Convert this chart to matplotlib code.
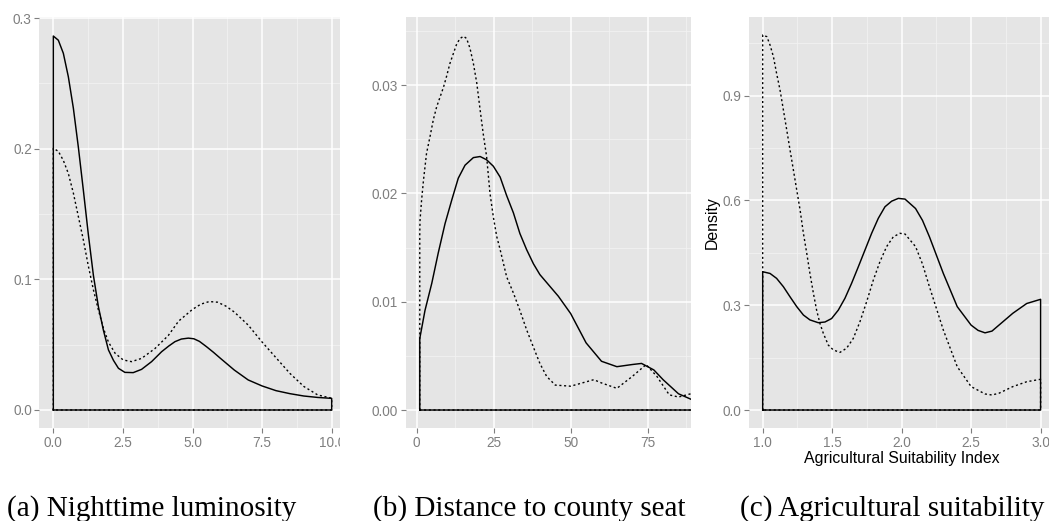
import numpy as np
import matplotlib.pyplot as plt
from matplotlib.patches import Rectangle

# panel (a) nighttime luminosity
lum_x_solid = [0.0, 0.18, 0.36, 0.54, 0.72, 0.9, 1.08, 1.26, 1.44, 1.62, 1.8, 1.98, 2.16, 2.34, 2.57,
               2.87, 3.17, 3.53, 3.89, 4.15, 4.37, 4.6, 4.85, 5.05, 5.25, 5.5, 5.75, 6.0, 6.5, 7.0,
               7.5, 8.0, 8.5, 9.0, 9.5, 10.0]
lum_y_solid = [0.2862, 0.283, 0.273, 0.255, 0.231, 0.201, 0.168, 0.134, 0.103, 0.079, 0.061, 0.046,
               0.038, 0.0319, 0.0288, 0.0286, 0.0311, 0.037, 0.0446, 0.049, 0.0523, 0.0543, 0.055,
               0.0545, 0.0525, 0.0485, 0.0442, 0.0396, 0.0306, 0.023, 0.0184, 0.0148, 0.0125,
               0.0107, 0.0096, 0.0089]
lum_x_dash = [0.0, 0.18, 0.36, 0.54, 0.72, 0.9, 1.08, 1.26, 1.44, 1.62, 1.8, 1.98, 2.22, 2.51, 2.81,
              3.17, 3.65, 4.13, 4.5, 5.0, 5.3, 5.6, 5.9, 6.2, 6.5, 7.0, 7.5, 8.0, 8.5, 9.0, 9.5, 10.0]
lum_y_dash = [0.2003, 0.198, 0.191, 0.181, 0.166, 0.148, 0.130, 0.110, 0.092, 0.0765, 0.0625, 0.052,
              0.0434, 0.0383, 0.037, 0.0395, 0.047, 0.057, 0.068, 0.077, 0.081, 0.083, 0.0825,
              0.0795, 0.075, 0.065, 0.052, 0.040, 0.028, 0.018, 0.0115, 0.009]

# panel (b) distance to county seat
dist_x_solid = [1.0, 2.7, 4.9, 7.0, 9.2, 11.4, 13.5, 15.7, 18.4, 20.6, 22.7, 24.9, 27.1, 29.2, 31.4,
                33.5, 35.7, 37.9, 40.0, 43.3, 46.0, 50.0, 55.0, 60.0, 65.0, 70.0, 73.0, 77.0, 80.0,
                85.0, 89.0, 93.0]
dist_y_solid = [0.0066, 0.0092, 0.0117, 0.0145, 0.0172, 0.0194, 0.0214, 0.0226, 0.0233, 0.0234, 0.0231,
                0.0225, 0.0215, 0.0198, 0.0182, 0.0163, 0.0148, 0.0135, 0.0125, 0.0114, 0.0105,
                0.0089, 0.0062, 0.0045, 0.0040, 0.0042, 0.0043, 0.0037, 0.0028, 0.0015, 0.0010, 0.0006]
dist_x_dash = [1.0, 1.08, 1.6, 2.2, 3.2, 4.3, 5.4, 6.5, 7.6, 8.7, 9.7, 10.8, 11.9, 13.0, 14.1, 15.2,
               16.2, 17.3, 18.4, 19.5, 20.6, 21.6, 22.7, 23.8, 24.9, 26.0, 27.1, 29.2, 31.4, 33.5,
               35.7, 37.9, 40.0, 42.2, 45.0, 50.0, 55.0, 57.5, 60.0, 65.0, 70.0, 74.5, 78.0, 82.0,
               85.0, 89.0, 93.0]
dist_y_dash = [0.0163, 0.0175, 0.0194, 0.0212, 0.0237, 0.0252, 0.0268, 0.028, 0.0289, 0.0298, 0.0308,
               0.032, 0.0329, 0.0338, 0.0343, 0.0345, 0.0343, 0.0334, 0.032, 0.0302, 0.0277, 0.0255,
               0.0234, 0.0200, 0.0178, 0.0160, 0.0148, 0.0123, 0.0108, 0.0092, 0.0074, 0.0058,
               0.0043, 0.0031, 0.0023, 0.0022, 0.0026, 0.0028, 0.0025, 0.0020, 0.0031, 0.0042,
               0.0031, 0.0014, 0.0012, 0.0015, 0.0014]

# panel (c) agricultural suitability
agri_x_solid = [1.0, 1.053, 1.10, 1.149, 1.197, 1.245, 1.293, 1.34, 1.40, 1.448, 1.496, 1.544, 1.592,
                1.64, 1.688, 1.736, 1.784, 1.832, 1.88, 1.928, 1.976, 2.024, 2.1, 2.15, 2.2, 2.3, 2.4,
                2.5, 2.55, 2.6, 2.65, 2.7, 2.8, 2.9, 3.0]
agri_y_solid = [0.396, 0.391, 0.377, 0.353, 0.324, 0.296, 0.272, 0.258, 0.250, 0.252, 0.262, 0.286,
                0.320, 0.363, 0.410, 0.458, 0.506, 0.549, 0.582, 0.598, 0.606, 0.604, 0.577, 0.543,
                0.496, 0.391, 0.296, 0.243, 0.228, 0.221, 0.226, 0.243, 0.277, 0.305, 0.317]
agri_x_dash = [1.0, 1.03, 1.053, 1.077, 1.10, 1.125, 1.149, 1.173, 1.197, 1.221, 1.245, 1.269, 1.293,
               1.317, 1.34, 1.365, 1.388, 1.412, 1.436, 1.472, 1.508, 1.556, 1.604, 1.652, 1.70,
               1.748, 1.796, 1.844, 1.892, 1.94, 1.988, 2.024, 2.1, 2.15, 2.2, 2.3, 2.4, 2.5, 2.6,
               2.65, 2.7, 2.8, 2.9, 3.0]
agri_y_dash = [1.074, 1.069, 1.045, 1.012, 0.964, 0.916, 0.859, 0.802, 0.744, 0.687, 0.630, 0.573,
               0.506, 0.449, 0.391, 0.334, 0.286, 0.248, 0.220, 0.186, 0.172, 0.165, 0.177, 0.205,
               0.253, 0.310, 0.372, 0.425, 0.468, 0.496, 0.506, 0.504, 0.468, 0.418, 0.353, 0.229,
               0.124, 0.067, 0.046, 0.043, 0.048, 0.067, 0.081, 0.088]

captions = ["(a) Nighttime luminosity", "(b) Distance to county seat", "(c) Agricultural suitability"]

W, H = 1049, 521
BG = "#E5E5E5"
TICK_GREY = "#7F7F7F"

plt.rcParams['font.family'] = ['Liberation Sans', 'DejaVu Sans']


def px_axes(fig, left, right, top, bottom):
    return fig.add_axes([left / W, 1 - bottom / H, (right - left) / W, (bottom - top) / H])


def style_axes(ax, xlim, ylim, xmaj, xmin, ymaj, ymin, xfmt, yfmt):
    ax.set_facecolor(BG)
    ax.set_xlim(*xlim)
    ax.set_ylim(*ylim)
    for s in ax.spines.values():
        s.set_visible(False)
    for v in xmin:
        ax.axvline(v, color="#F2F2F2", lw=0.6, zorder=0)
    for v in ymin:
        ax.axhline(v, color="#F2F2F2", lw=0.6, zorder=0)
    for v in xmaj:
        ax.axvline(v, color="white", lw=1.1, zorder=0.5)
    for v in ymaj:
        ax.axhline(v, color="white", lw=1.1, zorder=0.5)
    ax.set_xticks(xmaj)
    ax.set_xticklabels([xfmt.format(v) for v in xmaj])
    ax.set_yticks(ymaj)
    ax.set_yticklabels([yfmt.format(v) for v in ymaj])
    ax.tick_params(colors=TICK_GREY, labelcolor=TICK_GREY, labelsize=9.8, length=3.5, width=0.8, pad=2)


def draw_density(ax, xs, ys, dashed=False):
    px = [xs[0]] + list(xs) + [xs[-1], xs[0]]
    py = [0] + list(ys) + [0, 0]
    if dashed:
        ax.plot(px, py, color="black", lw=1.0, linestyle=(0, (1.5, 1.9)), zorder=3)
    else:
        ax.plot(px, py, color="black", lw=1.05, zorder=2, solid_joinstyle="round")


fig = plt.figure(figsize=(W / 100, H / 100), dpi=100)

ax1 = px_axes(fig, 39.4, 345.6, 17, 428)
style_axes(ax1, (-0.5, 10.5), (-0.01378, 0.30077), [0, 2.5, 5, 7.5, 10], [1.25, 3.75, 6.25, 8.75],
           [0, 0.1, 0.2, 0.3], [0.05, 0.15, 0.25], "{:.1f}", "{:.1f}")
draw_density(ax1, lum_x_solid, lum_y_solid)
draw_density(ax1, lum_x_dash, lum_y_dash, dashed=True)

ax2 = px_axes(fig, 405.6, 717.3, 17, 428)
style_axes(ax2, (-3.6, 97.6), (-0.00166, 0.03628), [0, 25, 50, 75], [12.5, 37.5, 62.5, 87.5],
           [0, 0.01, 0.02, 0.03], [0.005, 0.015, 0.025, 0.035], "{:.0f}", "{:.2f}")
draw_density(ax2, dist_x_solid, dist_y_solid)
draw_density(ax2, dist_x_dash, dist_y_dash, dashed=True)

ax3 = px_axes(fig, 748.8, 1054.5, 17, 428)
style_axes(ax3, (0.9, 3.1), (-0.0515, 1.1254), [1.0, 1.5, 2.0, 2.5, 3.0], [1.25, 1.75, 2.25, 2.75],
           [0, 0.3, 0.6, 0.9], [0.15, 0.45, 0.75, 1.05], "{:.1f}", "{:.1f}")
draw_density(ax3, agri_x_solid, agri_y_solid)
draw_density(ax3, agri_x_dash, agri_y_dash, dashed=True)
ax3.set_xlabel("Agricultural Suitability Index", fontsize=11.4, labelpad=1)
ax3.set_ylabel("Density", fontsize=11.4, labelpad=2)

# the panels were cropped on their right side
ax1.set_zorder(0)
ax2.set_zorder(2)
ax3.set_zorder(4)
for x0, x1, z in [(339.5, 352, 1), (690.5, 748, 3)]:
    fig.add_artist(Rectangle((x0 / W, 0), (x1 - x0) / W, 1, transform=fig.transFigure,
                             facecolor="white", edgecolor="none", zorder=z))

for x0, cap in zip([7, 373, 740], captions):
    fig.text(x0 / W, 1 - 516 / H, cap, fontsize=21, family=['Liberation Serif', 'DejaVu Serif'],
             ha="left", va="baseline", zorder=11)

fig.savefig("out.png", dpi=100)
